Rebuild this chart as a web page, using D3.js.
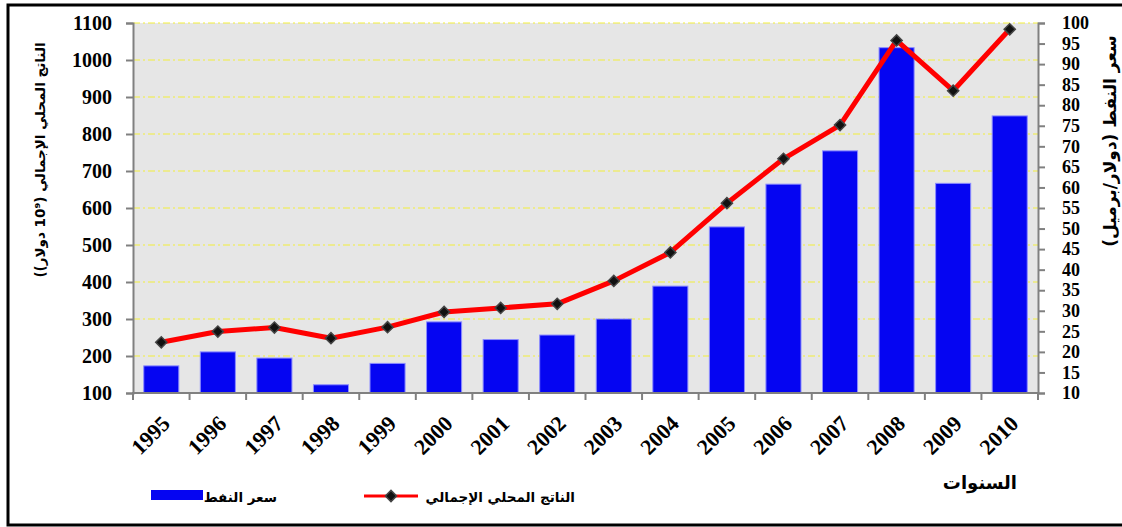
<!DOCTYPE html>
<html>
<head>
<meta charset="utf-8">
<script src="https://cdn.jsdelivr.net/npm/d3@7"></script>
<style>
  body { margin: 0; background: #fff; }
  svg { display: block; }
</style>
</head>
<body>
<div id="chart"></div>
<script>
// data
var years = ["1995","1996","1997","1998","1999","2000","2001","2002",
             "2003","2004","2005","2006","2007","2008","2009","2010"]
// oil price (dollar / barrel), right axis, bars
var oilPrice = [16.6, 20.0, 18.5, 12.0, 17.2, 27.3, 23.0, 24.1,
                28.0, 36.0, 50.4, 60.8, 68.9, 94.0, 61.0, 77.4]
// GDP (10^9 dollar), left axis, line
var gdp = [237, 266, 277, 248, 278, 319, 330, 341,
           403, 480, 613, 733, 824, 1053, 917, 1083]
var leftTicks = [100,200,300,400,500,600,700,800,900,1000,1100]
var rightTicks = [10,15,20,25,30,35,40,45,50,55,60,65,70,75,80,85,90,95,100]

var width = 1122, height = 527
var pLeft = 133, pRight = 1038, pTop = 23, pBottom = 393

var svg = d3.select("#chart").append("svg")
  .attr("width", width)
  .attr("height", height)

// outer frame (right side cut off in the original)
svg.append("rect")
  .attr("x", 8).attr("y", 5)
  .attr("width", 1130).attr("height", 520)
  .attr("fill", "none")
  .attr("stroke", "#000")
  .attr("stroke-width", 3)

var x = d3.scaleBand()
  .domain(years)
  .range([pLeft, pRight])
  .paddingInner(0.38)
  .paddingOuter(0.19)

var yL = d3.scaleLinear().domain([100, 1100]).range([pBottom, pTop])
var yR = d3.scaleLinear().domain([10, 100]).range([pBottom, pTop])

// plot background
svg.append("rect")
  .attr("x", pLeft).attr("y", pTop)
  .attr("width", pRight - pLeft).attr("height", pBottom - pTop)
  .attr("fill", "#e6e6e6")

// yellow dash-dot grid
svg.append("g").selectAll("line")
  .data(leftTicks.slice(1))
  .enter().append("line")
  .attr("x1", pLeft).attr("x2", pRight)
  .attr("y1", function(d) { return yL(d) })
  .attr("y2", function(d) { return yL(d) })
  .attr("stroke", "#f2ee3a")
  .attr("stroke-width", 1)
  .attr("stroke-dasharray", "7,3,2,3")

// bars
svg.append("g").selectAll("rect")
  .data(years)
  .enter().append("rect")
  .attr("x", function(d) { return x(d) })
  .attr("width", x.bandwidth())
  .attr("y", function(d, i) { return yR(oilPrice[i]) })
  .attr("height", function(d, i) { return pBottom - yR(oilPrice[i]) })
  .attr("fill", "#0505f2")
  .attr("stroke", "#8c8cff")
  .attr("stroke-width", 1)

// line
var line = d3.line()
  .x(function(d, i) { return x(years[i]) + x.bandwidth() / 2 })
  .y(function(d) { return yL(d) })

svg.append("path")
  .datum(gdp)
  .attr("d", line)
  .attr("fill", "none")
  .attr("stroke", "#ff0000")
  .attr("stroke-width", 5)
  .attr("stroke-linejoin", "round")

var diamond = d3.symbol().type(d3.symbolSquare).size(62)
svg.append("g").selectAll("path")
  .data(gdp)
  .enter().append("path")
  .attr("d", diamond)
  .attr("transform", function(d, i) {
    return "translate(" + (x(years[i]) + x.bandwidth() / 2) + "," + yL(d) + ") rotate(45)"
  })
  .attr("fill", "#111")
  .attr("stroke", "#444")
  .attr("stroke-width", 1.5)

// axes
var axisColor = "#808080"
var step = x.step()
var bounds = years.map(function(d) { return x(d) - step * 0.19 })
bounds.push(pRight)

var gx = svg.append("g")
gx.append("line")
  .attr("x1", pLeft - 1).attr("x2", pRight + 1)
  .attr("y1", pBottom).attr("y2", pBottom)
  .attr("stroke", axisColor).attr("stroke-width", 2)
gx.selectAll(".tk").data(bounds).enter().append("line")
  .attr("x1", function(d) { return d }).attr("x2", function(d) { return d })
  .attr("y1", pBottom).attr("y2", pBottom + 7)
  .attr("stroke", axisColor).attr("stroke-width", 2)
gx.selectAll("text").data(years).enter().append("text")
  .attr("transform", function(d) {
    return "translate(" + (x(d) + x.bandwidth() / 2 + 10) + "," + 425 + ") rotate(-45)"
  })
  .attr("text-anchor", "end")
  .attr("font-family", "Liberation Serif")
  .attr("font-weight", "bold")
  .attr("font-size", 22)
  .text(function(d) { return d })

var gl = svg.append("g")
  .attr("transform", "translate(" + pLeft + ",0)")
  .call(d3.axisLeft(yL).tickValues(leftTicks).tickFormat(d3.format("d"))
    .tickSize(7).tickPadding(14))
gl.select(".domain").attr("stroke", axisColor).attr("stroke-width", 2)
gl.selectAll(".tick line").attr("stroke", axisColor).attr("stroke-width", 2)
gl.selectAll(".tick text")
  .attr("font-family", "Liberation Serif")
  .attr("font-weight", "bold")
  .attr("font-size", 20)
  .attr("fill", "#000")

var gr = svg.append("g")
  .attr("transform", "translate(" + pRight + ",0)")
  .call(d3.axisRight(yR).tickValues(rightTicks).tickSize(7).tickPadding(17))
gr.select(".domain").attr("stroke", axisColor).attr("stroke-width", 2)
gr.selectAll(".tick line").attr("stroke", axisColor).attr("stroke-width", 2)
gr.selectAll(".tick text")
  .attr("font-family", "Liberation Serif")
  .attr("font-weight", "bold")
  .attr("font-size", 18)
  .attr("fill", "#000")

// axis titles
var arab = "'DejaVu Sans', sans-serif"
svg.append("text")
  .attr("transform", "translate(45,160) rotate(-90)")
  .attr("text-anchor", "middle")
  .attr("font-family", arab)
  .attr("font-weight", "bold")
  .attr("font-size", 13.5)
  .text("(الناتج المحلي الإجمالي (10⁹ دولار)")

svg.append("text")
  .attr("transform", "translate(1116,141) rotate(-90)")
  .attr("text-anchor", "middle")
  .attr("font-family", arab)
  .attr("font-weight", "bold")
  .attr("font-size", 17)
  .text("سعر النفط (دولار/برميل)")

svg.append("text")
  .attr("x", 1017).attr("y", 489)
  .attr("text-anchor", "end")
  .attr("font-family", arab)
  .attr("font-weight", "bold")
  .attr("font-size", 18)
  .text("السنوات")

// legend
svg.append("rect")
  .attr("x", 151).attr("y", 490)
  .attr("width", 52).attr("height", 10)
  .attr("fill", "#0505f2")
svg.append("text")
  .attr("x", 277).attr("y", 502)
  .attr("text-anchor", "end")
  .attr("font-family", arab)
  .attr("font-weight", "bold")
  .attr("font-size", 13.5)
  .text("سعر النفط")

svg.append("line")
  .attr("x1", 364).attr("x2", 418)
  .attr("y1", 496).attr("y2", 496)
  .attr("stroke", "#ff0000").attr("stroke-width", 3)
svg.append("path")
  .attr("d", diamond)
  .attr("transform", "translate(391,496) rotate(45)")
  .attr("fill", "#111").attr("stroke", "#444").attr("stroke-width", 1.5)
svg.append("text")
  .attr("x", 575).attr("y", 502)
  .attr("text-anchor", "end")
  .attr("font-family", arab)
  .attr("font-weight", "bold")
  .attr("font-size", 13.5)
  .text("الناتج المحلي الإجمالي")
</script>
</body>
</html>
